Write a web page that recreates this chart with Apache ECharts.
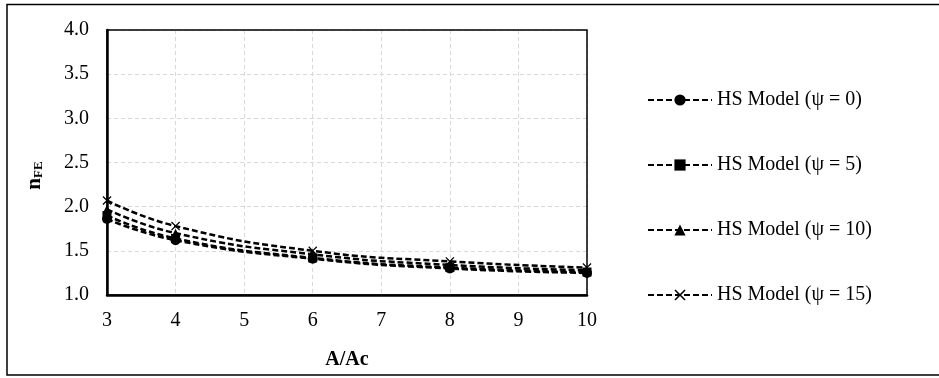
<!DOCTYPE html>
<html>
<head>
<meta charset="utf-8">
<script src="https://cdn.jsdelivr.net/npm/echarts@6/dist/echarts.min.js"></script>
<style>
  html, body { margin: 0; padding: 0; background: #fff; }
  #chart { width: 939px; height: 378px; }
</style>
</head>
<body>
<div id="chart"></div>
<script>
// area ratio on x, n_FE on y
var ratios = [3, 4, 6, 8, 10];
var psi0 = [1.86, 1.62, 1.41, 1.30, 1.25];
var psi5 = [1.90, 1.64, 1.42, 1.31, 1.26];
var psi10 = [1.97, 1.70, 1.46, 1.34, 1.28];
var psi15 = [2.07, 1.78, 1.50, 1.38, 1.31];
var names = ['HS Model (ψ = 0)', 'HS Model (ψ = 5)', 'HS Model (ψ = 10)', 'HS Model (ψ = 15)'];

var crossPath = 'path://M0,1 L1,0 L5,4 L9,0 L10,1 L6,5 L10,9 L9,10 L5,6 L1,10 L0,9 L4,5Z';
var symbols = ['circle', 'rect', 'triangle', crossPath];
var sizes = [10, 9, 9, 9];

function pairs(ys) {
  return ratios.map(function (x, i) { return [x, ys[i]]; });
}

var chart = echarts.init(document.getElementById('chart'));
var font = 'Liberation Serif, Times New Roman, serif';

var series = [psi0, psi5, psi10, psi15].map(function (ys, i) {
  return {
    name: names[i],
    type: 'line',
    smooth: true,
    data: pairs(ys),
    symbol: symbols[i],
    symbolSize: sizes[i],
    showAllSymbol: true,
    itemStyle: { color: '#000' },
    lineStyle: { color: '#000', width: 2.5, type: [6, 3] }
  };
});

chart.setOption({
  animation: false,
  backgroundColor: '#fff',
  graphic: [{
    type: 'rect',
    shape: { x: 7, y: 4.5, width: 940, height: 370.5 },
    style: { fill: 'none', stroke: '#000', lineWidth: 1.5 }
  }, {
    type: 'rect',
    shape: { x: 107, y: 30, width: 480, height: 265 },
    style: { fill: 'none', stroke: '#000', lineWidth: 1.5 },
    z: 1
  }],
  grid: { left: 107, right: 352, top: 30, bottom: 83 },
  xAxis: {
    type: 'value',
    min: 3, max: 10, interval: 1,
    name: 'A/Ac',
    nameLocation: 'middle',
    nameGap: 55,
    nameTextStyle: { fontFamily: font, fontSize: 20, fontWeight: 'bold', color: '#000' },
    axisLine: { lineStyle: { color: '#000', width: 2.5 } },
    axisTick: { show: false },
    axisLabel: { fontFamily: font, fontSize: 20, color: '#000', margin: 16 },
    splitLine: { show: true, lineStyle: { color: '#d9d9d9', type: [4, 3], width: 1 } }
  },
  yAxis: {
    type: 'value',
    min: 1, max: 4, interval: 0.5,
    name: '{n|n}{s|FE}',
    nameLocation: 'middle',
    nameGap: 62,
    nameRotate: 90,
    nameTextStyle: {
      padding: [0, 26, 0, 0],
      rich: {
        n: { fontFamily: font, fontSize: 21, fontWeight: 'bold', color: '#000' },
        s: { fontFamily: font, fontSize: 13, fontWeight: 'bold', color: '#000', verticalAlign: 'bottom', padding: [8, 0, 0, 0] }
      }
    },
    axisLine: { show: true, lineStyle: { color: '#000', width: 2.5 } },
    axisTick: { show: false },
    axisLabel: {
      fontFamily: font, fontSize: 20, color: '#000', margin: 18,
      formatter: function (v) { return v.toFixed(1); }
    },
    splitLine: { show: true, lineStyle: { color: '#d9d9d9', type: [4, 3], width: 1 } }
  },
  legend: {
    orient: 'vertical',
    left: 642,
    top: 85,
    itemWidth: 64,
    itemHeight: 14,
    itemGap: 45,
    data: names,
    textStyle: { fontFamily: font, fontSize: 20, color: '#000' }
  },
  series: series
});
</script>
</body>
</html>
